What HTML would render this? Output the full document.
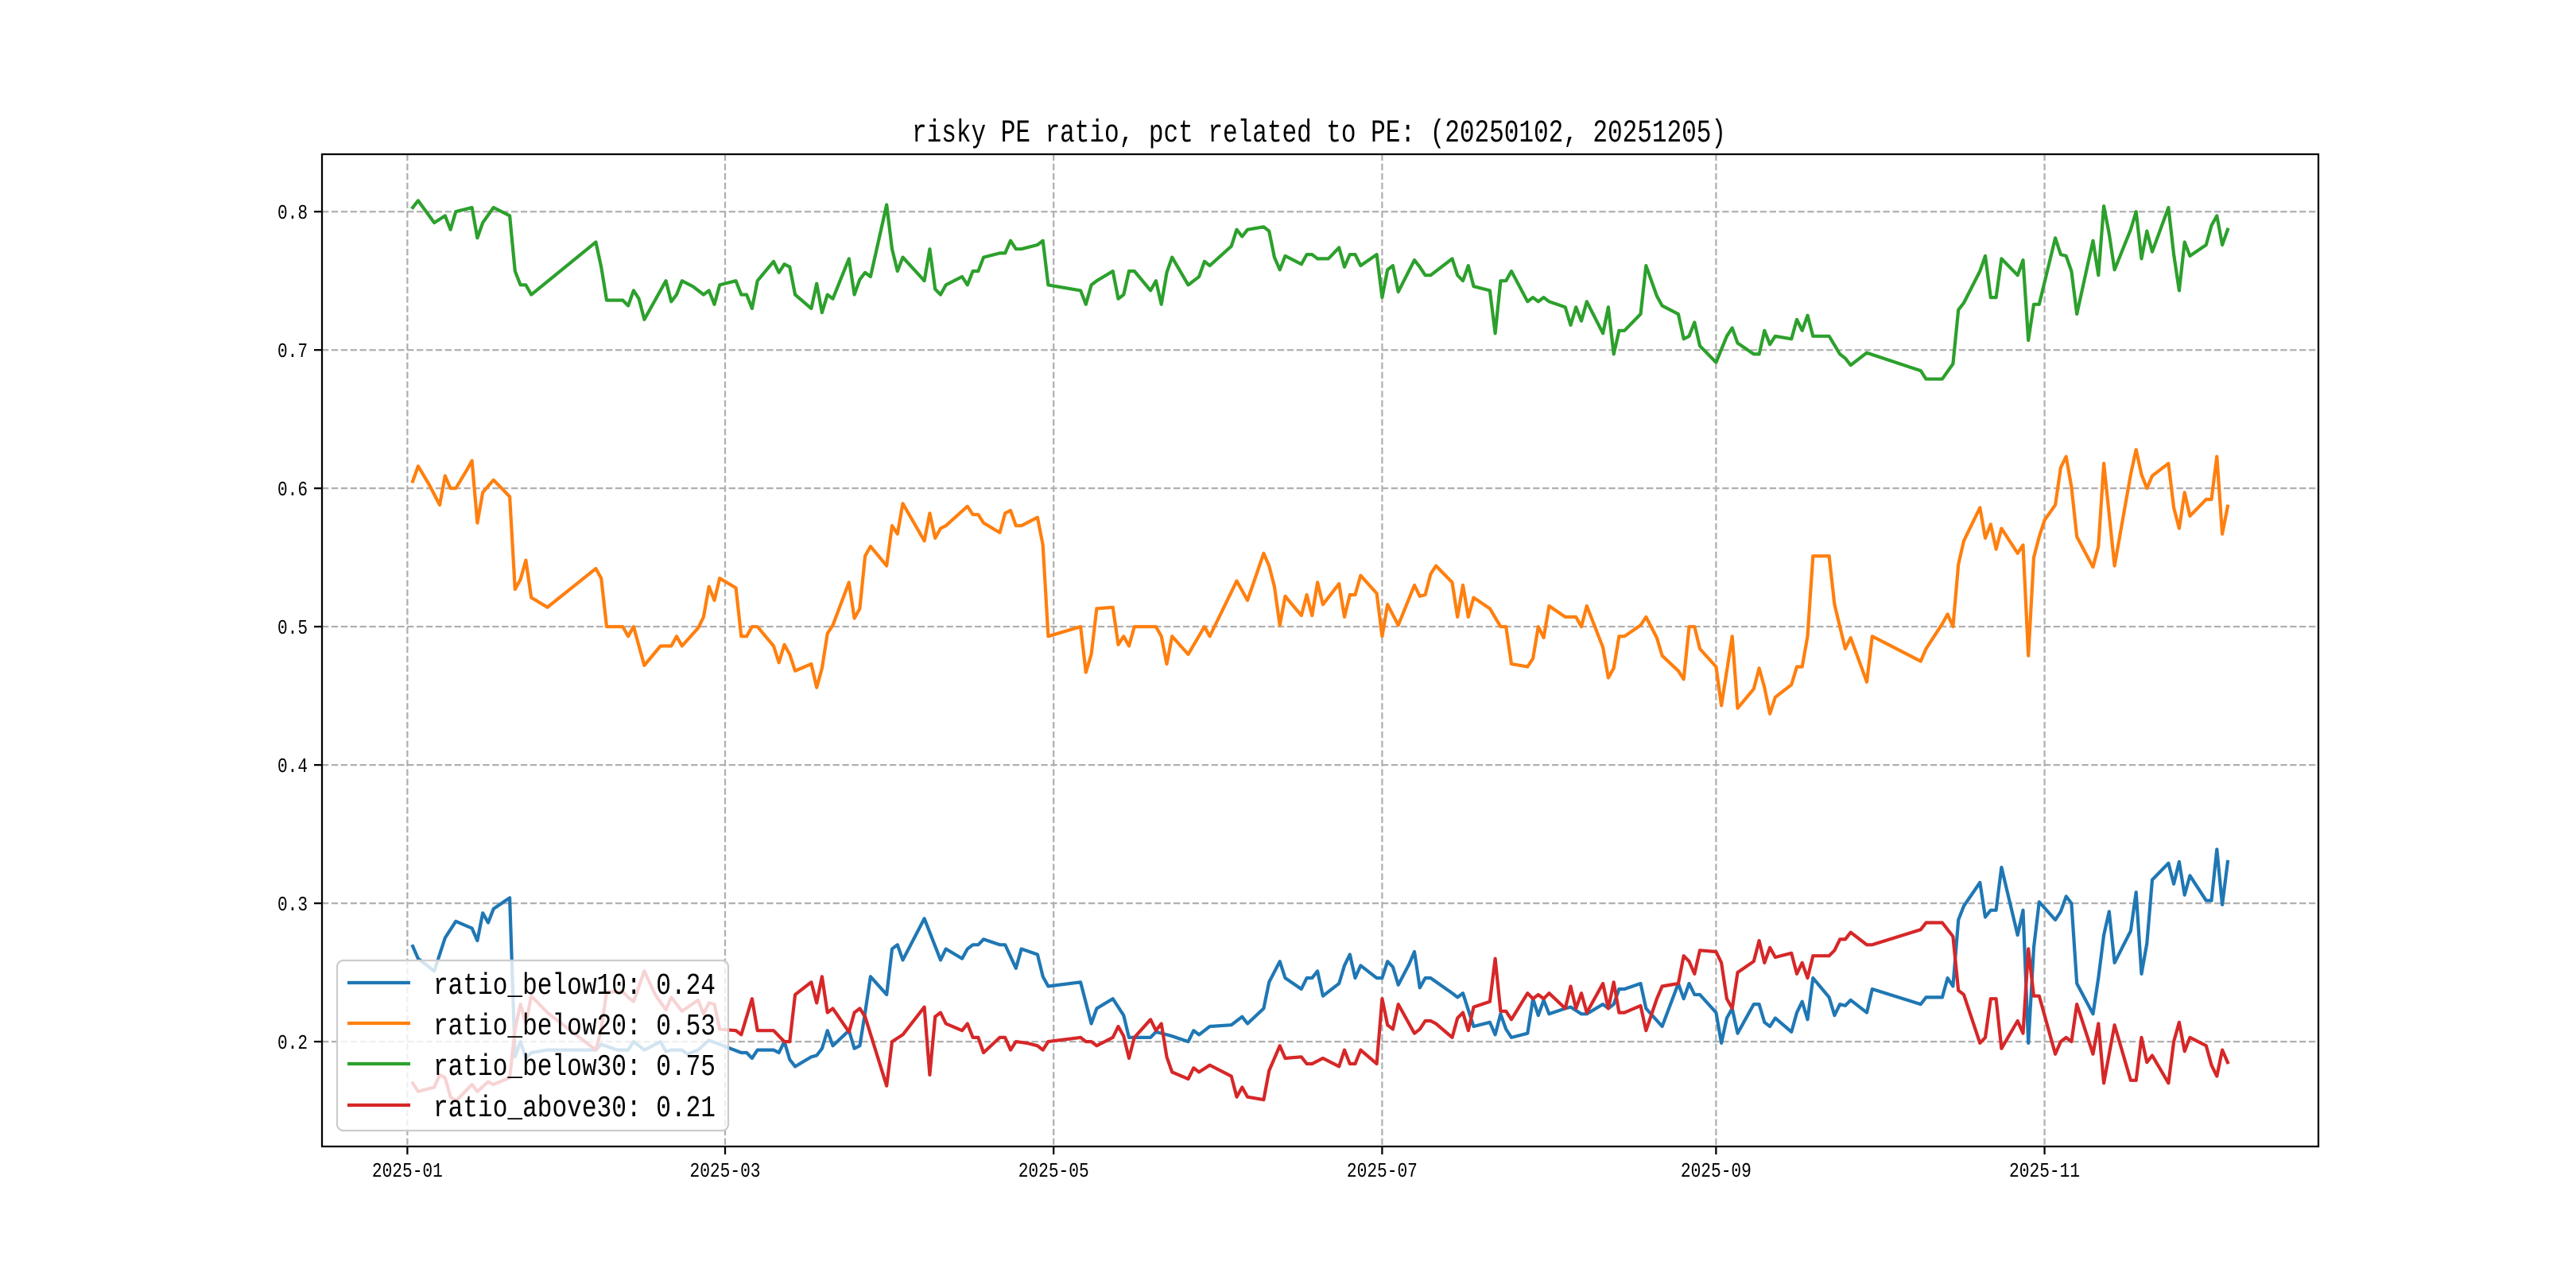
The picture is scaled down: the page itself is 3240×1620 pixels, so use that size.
<!DOCTYPE html>
<html><head><meta charset="utf-8"><style>
html,body{margin:0;padding:0;background:#fff;}
svg{display:block;}
text{font-family:"Liberation Mono","IPAGothic",monospace;fill:#000;}
</style></head><body>
<svg id="chart" width="3240" height="1620" viewBox="0 0 3240 1620" xmlns="http://www.w3.org/2000/svg">
<rect x="0" y="0" width="3240" height="1620" fill="#fff"/>
<text x="1659" y="178" text-anchor="middle" font-size="40" textLength="1024" lengthAdjust="spacingAndGlyphs">risky PE ratio, pct related to PE: (20250102, 20251205)</text>
<g id="grid"></g>
<g id="series"></g>
<rect x="405" y="194" width="2511" height="1248" fill="none" stroke="#000" stroke-width="2.25"/>
<g id="ticks"></g>
<g id="legend"></g>
</svg>
<script>
const monthDays=[0,59,120,181,243,304];
const monthLabels=["2025-01","2025-03","2025-05","2025-07","2025-09","2025-11"];
const yTicks=[0.2,0.3,0.4,0.5,0.6,0.7,0.8];
const yTickLabels=["0.2","0.3","0.4","0.5","0.6","0.7","0.8"];
const seriesNames=["ratio_below10: 0.24","ratio_below20: 0.53","ratio_below30: 0.75","ratio_above30: 0.21"];

const blueDays=[1,2,5,7,9,12,13,14,15,16,19,20,21,22,23,26,35,36,39,41,42,44,47,48,49,51,52,54,56,58,60,62,63,64,65,68,69,70,71,72,75,76,77,78,79,82,83,84,85,86,89,90,91,92,96,99,100,103,104,105,106,107,110,111,113,114,117,118,119,125,127,128,131,133,134,138,139,141,142,145,146,147,149,153,155,156,159,160,162,163,166,167,168,169,170,173,174,175,176,177,180,181,182,183,184,186,187,188,189,190,194,195,196,198,201,202,203,204,205,208,209,210,211,212,215,216,218,219,222,223,224,225,226,229,230,233,236,237,238,239,240,243,244,245,246,247,250,251,252,253,254,257,258,259,260,261,264,265,266,267,268,271,272,281,282,285,286,287,288,289,292,293,294,295,296,299,300,301,302,303,306,307,308,309,310,313,314,315,316,317,320,321,322,323,324,327,328,329,330,331,334,335,336,337,338];
const blueVals=[.269,.260,.251,.275,.287,.282,.273,.293,.286,.296,.304,.189,.200,.188,.192,.194,.194,.198,.194,.194,.200,.194,.200,.193,.194,.194,.191,.194,.201,.198,.195,.192,.192,.188,.194,.194,.192,.200,.187,.182,.189,.190,.195,.208,.197,.208,.195,.197,.221,.247,.234,.267,.270,.259,.289,.259,.267,.260,.267,.270,.270,.274,.270,.270,.253,.267,.263,.247,.240,.243,.213,.224,.231,.219,.203,.203,.207,.205,.204,.200,.208,.205,.211,.212,.218,.213,.224,.243,.258,.246,.238,.246,.246,.251,.233,.242,.255,.263,.246,.255,.246,.246,.258,.254,.241,.256,.265,.239,.246,.246,.235,.232,.235,.211,.214,.205,.220,.209,.203,.206,.231,.219,.230,.220,.224,.225,.220,.220,.227,.224,.227,.238,.238,.242,.224,.211,.242,.231,.242,.234,.234,.221,.199,.217,.224,.206,.227,.227,.214,.211,.217,.207,.221,.229,.216,.246,.232,.219,.227,.226,.230,.221,.238,.227,.232,.232,.246,.240,.288,.298,.315,.290,.295,.295,.326,.277,.295,.199,.268,.301,.288,.294,.305,.300,.242,.220,.246,.277,.294,.257,.280,.308,.249,.271,.317,.329,.314,.330,.306,.320,.302,.302,.339,.299,.330];

const orangeDays=[1,2,4,6,7,8,9,11,12,13,14,16,19,20,21,22,23,26,35,36,37,40,41,42,44,47,49,50,51,54,55,56,57,58,61,62,63,64,65,68,69,70,71,72,75,76,77,78,79,82,83,84,85,86,89,90,91,92,96,97,98,99,100,104,105,106,107,110,111,112,113,114,117,118,119,125,126,127,128,131,132,133,134,135,139,140,141,142,145,148,149,154,156,159,160,161,162,163,166,167,168,169,170,173,174,175,176,177,180,181,182,184,187,188,189,190,191,194,195,196,197,198,201,203,204,205,208,209,210,211,212,215,217,218,219,222,223,224,225,226,229,230,232,233,236,237,238,239,240,243,244,245,246,247,250,251,252,253,254,257,258,259,260,261,264,265,267,268,271,272,281,282,285,286,287,288,289,292,293,294,295,296,299,300,301,302,303,304,306,307,308,309,310,313,314,315,317,320,321,322,323,324,327,328,329,330,331,334,335,336,337,338];
const orangeVals=[.605,.616,.603,.588,.609,.600,.600,.613,.620,.575,.597,.606,.594,.527,.534,.548,.521,.514,.542,.535,.500,.500,.493,.500,.472,.486,.486,.493,.486,.499,.507,.529,.519,.535,.528,.493,.493,.500,.500,.486,.474,.487,.480,.468,.473,.456,.470,.495,.501,.532,.506,.513,.551,.558,.544,.573,.567,.589,.562,.582,.564,.571,.573,.587,.581,.581,.575,.568,.582,.584,.573,.573,.579,.559,.493,.500,.467,.480,.513,.514,.487,.493,.486,.500,.500,.493,.473,.493,.480,.500,.493,.533,.519,.553,.544,.529,.501,.522,.508,.523,.508,.532,.516,.531,.507,.523,.523,.537,.524,.493,.516,.501,.530,.522,.523,.538,.544,.532,.507,.530,.507,.521,.513,.500,.500,.473,.471,.477,.500,.492,.515,.507,.507,.500,.515,.485,.463,.470,.493,.493,.501,.507,.492,.479,.468,.462,.500,.500,.484,.471,.443,.468,.493,.441,.455,.470,.456,.437,.449,.458,.471,.471,.493,.551,.551,.516,.484,.492,.460,.493,.475,.484,.502,.509,.500,.545,.562,.586,.564,.574,.556,.571,.553,.559,.479,.550,.565,.577,.588,.615,.623,.601,.565,.543,.558,.618,.544,.610,.628,.610,.600,.609,.618,.586,.571,.597,.580,.592,.592,.623,.567,.587];

const greenDays=[1,2,5,7,8,9,12,13,14,16,19,20,21,22,23,35,36,37,40,41,42,43,44,48,49,50,51,53,55,56,57,58,61,62,63,64,65,68,69,70,71,72,75,76,77,78,79,82,83,84,85,86,89,90,91,92,96,97,98,99,100,103,104,105,106,107,110,111,112,113,114,117,118,119,125,126,127,128,131,132,133,134,135,138,139,140,141,142,145,147,148,149,153,154,155,156,159,160,161,162,163,166,167,168,169,171,173,174,175,176,177,180,181,182,183,184,187,188,189,190,194,195,196,197,198,201,202,203,204,205,208,209,210,211,212,215,216,217,218,219,222,223,224,225,226,229,230,232,233,236,237,238,239,240,243,245,246,247,250,251,252,253,254,257,258,259,260,261,264,266,267,268,271,281,282,285,287,288,289,292,293,294,295,296,299,300,301,302,303,306,307,308,309,310,313,314,315,316,317,320,321,322,323,324,327,328,329,330,331,334,335,336,337,338];
const greenVals=[.803,.808,.792,.797,.787,.800,.803,.781,.792,.803,.797,.757,.747,.747,.740,.778,.760,.736,.736,.732,.743,.737,.722,.750,.735,.740,.750,.746,.740,.743,.733,.747,.750,.740,.740,.730,.750,.764,.756,.762,.760,.740,.730,.748,.727,.740,.737,.766,.740,.751,.756,.753,.805,.773,.757,.767,.750,.773,.744,.740,.747,.753,.747,.757,.757,.767,.770,.770,.779,.773,.773,.776,.779,.747,.743,.733,.747,.750,.757,.737,.740,.757,.757,.743,.750,.733,.756,.767,.747,.753,.764,.761,.775,.787,.782,.787,.789,.786,.767,.758,.768,.762,.769,.769,.766,.766,.774,.760,.769,.769,.761,.769,.738,.758,.761,.742,.765,.760,.754,.754,.766,.754,.750,.761,.746,.743,.712,.750,.750,.757,.735,.738,.735,.738,.735,.731,.718,.731,.721,.735,.712,.731,.697,.714,.714,.726,.761,.739,.732,.726,.708,.710,.720,.703,.691,.710,.716,.705,.697,.697,.714,.704,.710,.708,.722,.714,.725,.710,.710,.697,.694,.689,.698,.685,.679,.679,.690,.729,.734,.757,.768,.738,.738,.766,.754,.765,.707,.733,.733,.781,.769,.768,.757,.726,.779,.754,.804,.784,.758,.787,.800,.766,.786,.771,.803,.769,.743,.778,.768,.776,.790,.797,.776,.787];

const redDays=[1,2,5,6,7,8,9,12,13,15,16,19,20,21,22,23,26,35,36,37,40,41,42,44,46,48,49,51,54,55,56,57,58,61,62,64,65,68,70,71,72,75,76,77,78,79,82,83,84,85,89,90,92,96,97,98,99,100,103,104,105,106,107,110,111,112,113,115,117,118,119,125,126,127,128,131,132,133,134,135,138,139,140,141,142,145,146,147,149,153,154,155,156,159,160,162,163,166,167,168,170,173,174,175,176,177,180,181,182,183,184,187,188,189,190,191,194,195,196,197,198,201,202,203,204,205,208,209,210,211,212,215,216,217,218,219,222,223,224,225,226,229,230,232,233,236,237,238,239,240,243,244,245,246,247,250,251,252,253,254,257,258,259,260,261,264,265,266,267,268,271,272,281,282,285,287,288,289,292,293,294,295,296,299,300,301,302,303,306,307,308,309,310,313,314,315,317,320,321,322,323,324,327,328,329,330,331,334,335,336,337,338];
const redVals=[.170,.164,.167,.176,.174,.160,.157,.169,.164,.171,.169,.174,.209,.227,.213,.233,.221,.194,.209,.236,.236,.232,.229,.251,.234,.223,.232,.222,.230,.220,.228,.227,.209,.208,.205,.231,.208,.208,.200,.200,.234,.243,.228,.247,.221,.224,.207,.221,.224,.218,.168,.200,.205,.225,.176,.218,.221,.213,.208,.213,.203,.203,.192,.203,.203,.194,.200,.199,.197,.194,.200,.203,.200,.200,.197,.203,.211,.204,.188,.203,.216,.208,.213,.189,.178,.173,.181,.178,.183,.175,.160,.167,.160,.158,.179,.197,.188,.189,.184,.184,.188,.182,.194,.184,.184,.194,.184,.231,.212,.209,.227,.206,.209,.215,.215,.213,.203,.217,.221,.208,.225,.229,.260,.222,.222,.216,.235,.231,.234,.231,.235,.224,.240,.224,.235,.221,.242,.224,.243,.221,.221,.226,.208,.231,.240,.242,.262,.258,.249,.266,.265,.257,.231,.224,.250,.258,.273,.257,.268,.261,.264,.249,.257,.246,.262,.262,.266,.274,.274,.279,.270,.270,.281,.286,.286,.276,.237,.234,.199,.203,.231,.231,.195,.215,.206,.267,.233,.233,.191,.200,.203,.200,.227,.191,.213,.170,.212,.172,.172,.203,.185,.190,.170,.200,.214,.193,.203,.197,.183,.175,.194,.185];

const NS="http://www.w3.org/2000/svg";
const X0=405,X1=2916,Y0=194,Y1=1442;
const dMin=-15.85,dMax=354.85,vMin=0.1242,vMax=0.8415;
function xScale(d){return X0+(d-dMin)/(dMax-dMin)*(X1-X0);}
function yScale(v){return Y1-(v-vMin)/(vMax-vMin)*(Y1-Y0);}
function mk(tag,attrs,parent){const e=document.createElementNS(NS,tag);for(const k in attrs)e.setAttribute(k,attrs[k]);parent.appendChild(e);return e;}

const grid=document.getElementById('grid');
const ticks=document.getElementById('ticks');
monthDays.forEach((d,i)=>{
  const x=xScale(d);
  const g=mk('line',{x1:x,x2:x,y1:Y0,y2:Y1,stroke:'#b0b0b0','stroke-width':2.25,'stroke-dasharray':'8.3,3.6'},grid);
  
  
  const t=mk('line',{x1:x,x2:x,y1:Y1,y2:Y1+10,stroke:'#000','stroke-width':2.25},ticks);
  
  
  const l=mk('text',{x:x,y:Y1+38,'text-anchor':'middle','font-size':26,textLength:89,lengthAdjust:'spacingAndGlyphs'},ticks);
  l.textContent=monthLabels[i];
  
  
});
yTicks.forEach((v,i)=>{
  const y=yScale(v);
  const g=mk('line',{x1:X0,x2:X1,y1:y,y2:y,stroke:'#b0b0b0','stroke-width':2.25,'stroke-dasharray':'8.3,3.6'},grid);
  
  
  const t=mk('line',{x1:X0-10,x2:X0,y1:y,y2:y,stroke:'#000','stroke-width':2.25},ticks);
  
  
  const l=mk('text',{x:X0-18,y:y+9,'text-anchor':'end','font-size':26,textLength:38,lengthAdjust:'spacingAndGlyphs'},ticks);
  l.textContent=yTickLabels[i];
  
  
});

const seriesLayer=document.getElementById('series');
const colors=['#1f77b4','#ff7f0e','#2ca02c','#d62728'];
const allDays=[blueDays,orangeDays,greenDays,redDays];
const allVals=[blueVals,orangeVals,greenVals,redVals];
const lineNames=['line-ratio-below10','line-ratio-below20','line-ratio-below30','line-ratio-above30'];
allDays.forEach((days,s)=>{
  const vals=allVals[s];
  const pts=days.map((d,i)=>xScale(d).toFixed(1)+','+yScale(vals[i]).toFixed(1)).join(' ');
  const p=mk('polyline',{points:pts,fill:'none',stroke:colors[s],'stroke-width':4.2,'stroke-linejoin':'round','stroke-linecap':'square'},seriesLayer);
  
  
});

const legend=document.getElementById('legend');
const box=mk('rect',{x:424,y:1208,width:492,height:214,rx:8,fill:'rgba(255,255,255,0.8)',stroke:'#cccccc','stroke-width':2.25},legend);


const rowY=[1236,1287,1338,1390];
seriesNames.forEach((n,i)=>{
  const ln=mk('line',{x1:437,x2:516,y1:rowY[i],y2:rowY[i],stroke:colors[i],'stroke-width':4.2},legend);
  
  
  const t=mk('text',{x:545,y:rowY[i]+14,'font-size':38,textLength:355,lengthAdjust:'spacingAndGlyphs'},legend);
  t.textContent=n;
  
  
});
</script>
</body></html>
